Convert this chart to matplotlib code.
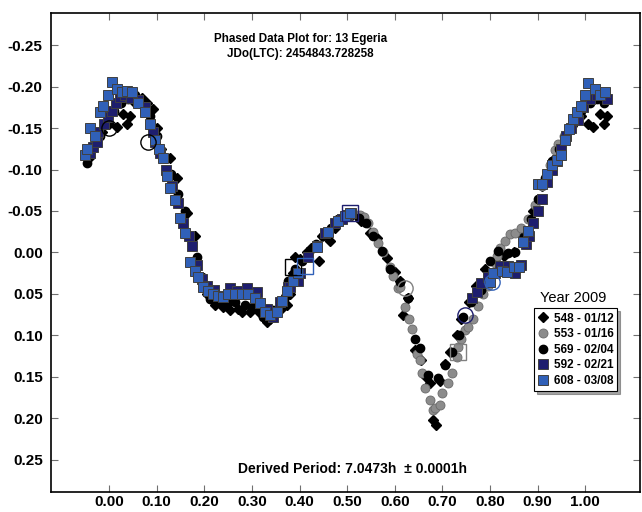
import matplotlib
matplotlib.use("Agg")
import matplotlib.pyplot as plt

plt.rcParams["font.family"] = ["Liberation Sans", "DejaVu Sans"]

# session 548 - 01/12 (black diamonds)
ph_548 = [-0.04, -0.03, -0.015, 0.0, 0.017, 0.03, 0.038, 0.044, 0.055, 0.069, 0.08, 0.092,
          0.10, 0.11, 0.128, 0.143, 0.164, 0.18, 0.195, 0.205, 0.223, 0.24, 0.254, 0.27,
          0.279, 0.296, 0.311, 0.321, 0.332, 0.338, 0.35, 0.362, 0.374, 0.38, 0.387, 0.391,
          0.401, 0.415, 0.425, 0.44, 0.447, 0.464, 0.475, 0.49, 0.51, 0.53, 0.548, 0.563,
          0.584, 0.60, 0.61, 0.618, 0.628, 0.643, 0.655, 0.665, 0.674, 0.681, 0.686, 0.695,
          0.706, 0.715, 0.73, 0.74, 0.755, 0.77, 0.79, 0.81, 0.83, 0.85, 0.87, 0.89, 0.91,
          0.93, 0.95, 0.97, 0.99, 1.006, 1.017, 1.03, 1.04, 1.046]
mag_548 = [-0.115, -0.13, -0.145, -0.155, -0.151, -0.167, -0.155, -0.165, -0.18, -0.186, -0.18, -0.173,
           -0.15, -0.125, -0.114, -0.09, -0.048, -0.02, 0.03, 0.05, 0.064, 0.066, 0.07, 0.068,
           0.072, 0.072, 0.07, 0.076, 0.084, 0.08, 0.07, 0.068, 0.064, 0.05, 0.025, 0.006,
           0.008, 0.0, -0.005, 0.01, -0.02, -0.014, -0.03, -0.04, -0.045, -0.038, -0.024, -0.017,
           0.007, 0.024, 0.035, 0.076, 0.055, 0.118, 0.13, 0.15, 0.157, 0.202, 0.208, 0.155,
           0.134, 0.12, 0.10, 0.08, 0.06, 0.04, 0.02, 0.01, 0.004, 0.0, -0.02, -0.05, -0.08,
           -0.11, -0.13, -0.15, -0.165, -0.155, -0.151, -0.167, -0.155, -0.165]

# session 553 - 01/16 (grey circles)
ph_553 = [0.515, 0.527, 0.535, 0.544, 0.555, 0.565, 0.575, 0.59, 0.597, 0.607, 0.611, 0.622,
          0.63, 0.637, 0.647, 0.652, 0.657, 0.664, 0.674, 0.68, 0.685, 0.695, 0.70, 0.712,
          0.72, 0.731, 0.733, 0.74, 0.748, 0.754, 0.765, 0.775, 0.785, 0.795, 0.80, 0.81,
          0.815, 0.82, 0.832, 0.842, 0.853, 0.865, 0.88, 0.895, 0.91, 0.925, 0.937, 0.943, 0.955]
mag_553 = [-0.046, -0.045, -0.043, -0.036, -0.025, -0.011, 0.0, 0.018, 0.028, 0.043, 0.042, 0.066,
           0.08, 0.092, 0.122, 0.13, 0.145, 0.164, 0.178, 0.19, 0.188, 0.184, 0.17, 0.158,
           0.145, 0.126, 0.114, 0.105, 0.094, 0.09, 0.08, 0.065, 0.05, 0.04, 0.03, 0.013,
           0.004, -0.005, -0.014, -0.022, -0.023, -0.03, -0.04, -0.057, -0.08, -0.105, -0.123, -0.131, -0.14]

# session 569 - 02/04 (black circles)
ph_569 = [-0.046, -0.035, -0.02, -0.005, 0.01, 0.025, 0.04, 0.055, 0.07, 0.085, 0.10, 0.115,
          0.13, 0.145, 0.16, 0.175, 0.185, 0.195, 0.212, 0.233, 0.25, 0.265, 0.285, 0.303,
          0.324, 0.345, 0.37, 0.376, 0.39, 0.405, 0.42, 0.435, 0.45, 0.465, 0.48, 0.495,
          0.51, 0.525, 0.54, 0.555, 0.573, 0.59, 0.611, 0.628, 0.643, 0.653, 0.67, 0.69,
          0.706, 0.72, 0.735, 0.744, 0.76, 0.78, 0.80, 0.817, 0.838, 0.853, 0.87, 0.885,
          0.90, 0.915, 0.93, 0.945, 0.96, 0.975, 0.99, 1.01, 1.025, 1.04]
mag_569 = [-0.108, -0.125, -0.14, -0.155, -0.17, -0.18, -0.185, -0.19, -0.18, -0.165, -0.14, -0.115,
           -0.095, -0.07, -0.05, -0.02, 0.005, 0.03, 0.056, 0.058, 0.06, 0.06, 0.063, 0.066,
           0.078, 0.07, 0.054, 0.034, 0.02, 0.01, 0.0, -0.01, -0.02, -0.03, -0.04, -0.045,
           -0.046, -0.042, -0.035, -0.02, -0.002, 0.02, 0.036, 0.055, 0.104, 0.115, 0.148, 0.152,
           0.136, 0.12, 0.10, 0.078, 0.06, 0.045, 0.01, -0.002, 0.001, 0.0, -0.015, -0.04,
           -0.065, -0.09, -0.11, -0.125, -0.14, -0.155, -0.17, -0.18, -0.185, -0.18]

# session 592 - 02/21 (navy squares)
ph_592 = [-0.04, -0.034, -0.025, -0.023, -0.01, -0.002, 0.006, 0.015, 0.023, 0.034, 0.045, 0.061,
          0.075, 0.092, 0.097, 0.107, 0.12, 0.132, 0.145, 0.156, 0.167, 0.174, 0.185, 0.195,
          0.206, 0.22, 0.254, 0.269, 0.29, 0.311, 0.332, 0.345, 0.359, 0.376, 0.38, 0.397,
          0.401, 0.418, 0.437, 0.454, 0.475, 0.49, 0.50, 0.508,
          0.763, 0.773, 0.78, 0.795, 0.81, 0.82, 0.838, 0.853, 0.865, 0.875, 0.882, 0.89,
          0.90, 0.91, 0.92, 0.93, 0.94, 0.95, 0.96, 0.97, 0.985, 0.995, 1.01, 1.025, 1.045]
mag_592 = [-0.12, -0.127, -0.133, -0.145, -0.155, -0.163, -0.171, -0.18, -0.187, -0.19, -0.186, -0.184,
           -0.175, -0.145, -0.133, -0.12, -0.10, -0.08, -0.06, -0.035, -0.02, -0.008, 0.015, 0.032,
           0.04, 0.045, 0.043, 0.046, 0.043, 0.048, 0.068, 0.078, 0.06, 0.042, 0.042, 0.034,
           0.025, 0.006, -0.008, -0.024, -0.035, -0.04, -0.045, -0.047,
           0.055, 0.048, 0.037, 0.03, 0.025, 0.016, 0.016, 0.025, 0.015, -0.01, -0.02, -0.036,
           -0.05, -0.065, -0.085, -0.10, -0.11, -0.125, -0.14, -0.15, -0.16, -0.175, -0.185, -0.19, -0.185]

# session 608 - 03/08 (blue squares)
ph_608 = [-0.05, -0.046, -0.04, -0.03, -0.019, -0.013, -0.002, 0.006, 0.017, 0.028, 0.038, 0.048,
          0.06, 0.076, 0.086, 0.097, 0.105, 0.113, 0.122, 0.128, 0.139, 0.149, 0.16, 0.17,
          0.18, 0.187, 0.197, 0.208, 0.218, 0.229, 0.24, 0.25, 0.265, 0.28, 0.292, 0.307,
          0.317, 0.328, 0.338, 0.353, 0.363, 0.374, 0.387, 0.397, 0.437, 0.46, 0.48, 0.495, 0.505,
          0.80, 0.807, 0.826, 0.836, 0.85, 0.86, 0.87, 0.88, 0.90, 0.91, 0.92, 0.93,
          0.941, 0.95, 0.958, 0.966, 0.975, 0.983, 0.99, 1.0, 1.006, 1.02, 1.03, 1.042]
mag_608 = [-0.117, -0.125, -0.15, -0.14, -0.169, -0.177, -0.19, -0.205, -0.197, -0.193, -0.195, -0.194,
           -0.18, -0.169, -0.155, -0.135, -0.125, -0.114, -0.092, -0.078, -0.063, -0.042, -0.023, 0.012,
           0.022, 0.03, 0.042, 0.046, 0.05, 0.052, 0.054, 0.05, 0.05, 0.05, 0.05, 0.055,
           0.061, 0.072, 0.076, 0.072, 0.058, 0.046, 0.034, 0.025, -0.006, -0.025, -0.038, -0.044, -0.047,
           0.036, 0.025, 0.022, 0.024, 0.018, 0.018, -0.012, -0.026, -0.083, -0.082, -0.095, -0.105,
           -0.111, -0.117, -0.135, -0.149, -0.161, -0.169, -0.176, -0.19, -0.204, -0.197, -0.19, -0.194]

# highlighted (hollow) points
hl_ph = [0.0, 0.082, 0.387, 0.412, 0.505, 0.622, 0.733, 0.748, 0.805]
hl_mag = [-0.15, -0.133, 0.018, 0.016, -0.047, 0.043, 0.12, 0.076, 0.036]
hl_mk = ["o", "o", "s", "s", "s", "o", "s", "o", "o"]
hl_col = ["black", "black", "black", "#3060b8", "#1e1e6e", "#808080", "#808080", "#1e1e6e", "#3060b8"]

fig = plt.figure(figsize=(6.42, 5.12), dpi=100)
ax = fig.add_axes([0.0794, 0.039, 0.9176, 0.936])

ax.plot(ph_548, mag_548, "D", color="black", ms=5, mec="black", label="548 - 01/12", zorder=2)
ax.plot(ph_553, mag_553, "o", color="#8c8c8c", ms=6.5, mec="#6a6a6a", mew=0.6, label="553 - 01/16", zorder=3)
ax.plot(ph_569, mag_569, "o", color="black", ms=6, mec="black", label="569 - 02/04", zorder=3)
ax.plot(ph_592, mag_592, "s", color="#1e1e6e", ms=7.5, mec="#404040", mew=0.7, label="592 - 02/21", zorder=4)
ax.plot(ph_608, mag_608, "s", color="#3060b8", ms=7.5, mec="#404040", mew=0.7, label="608 - 03/08", zorder=5)

for x, y, m, c in zip(hl_ph, hl_mag, hl_mk, hl_col):
    ax.plot(x, y, m, ms=11, mfc="none", mec=c, mew=1.0, zorder=6)

ax.set_xlim(-0.122, 1.115)
ax.set_ylim(0.289, -0.289)
ax.set_xticks([i / 10 for i in range(11)])
ax.set_xticklabels(["%.2f" % (i / 10) for i in range(11)])
yt = [-0.25, -0.20, -0.15, -0.10, -0.05, 0.0, 0.05, 0.10, 0.15, 0.20, 0.25]
ax.set_yticks(yt)
ax.set_yticklabels(["%.2f" % v for v in yt])
ax.tick_params(direction="in", length=5, top=True, right=True, color="#707070",
               labelsize=11)
ax.tick_params(axis="y", pad=6)
ax.tick_params(axis="x", pad=2)
for lab in ax.get_xticklabels() + ax.get_yticklabels():
    lab.set_fontweight("bold")
for s in ax.spines.values():
    s.set_linewidth(1.2)

ax.text(0.423, 0.946, "Phased Data Plot for: 13 Egeria", transform=ax.transAxes,
        ha="center", va="center", fontsize=8.4, fontweight="bold")
ax.text(0.423, 0.915, "JDo(LTC): 2454843.728258", transform=ax.transAxes,
        ha="center", va="center", fontsize=8.4, fontweight="bold")
ax.text(0.511, 0.048, "Derived Period: 7.0473h  \u00b1 0.0001h", transform=ax.transAxes,
        ha="center", va="center", fontsize=10, fontweight="bold")
ax.text(0.886, 0.405, "Year 2009", transform=ax.transAxes, ha="center", va="center", fontsize=10.5)

leg = ax.legend(loc="upper left", bbox_to_anchor=(0.82, 0.383), frameon=True, fancybox=False,
                shadow=True, prop={"weight": "bold", "size": 8.5}, handlelength=0.8,
                handletextpad=0.5, borderpad=0.35, labelspacing=0.3, borderaxespad=0)
leg.get_frame().set_edgecolor("black")
leg.get_frame().set_linewidth(0.8)

fig.savefig("out.png", dpi=100)
